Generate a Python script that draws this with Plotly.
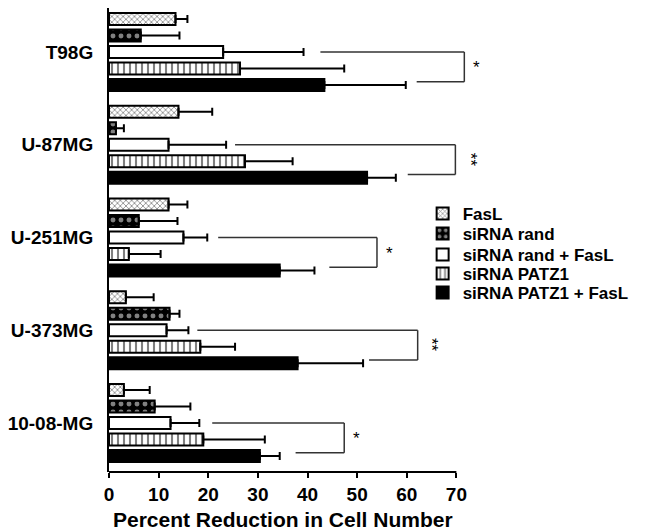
import plotly.graph_objects as go

cell_lines = ["T98G", "U-87MG", "U-251MG", "U-373MG", "10-08-MG"]
series_names = ["FasL", "siRNA rand", "siRNA rand + FasL", "siRNA PATZ1", "siRNA PATZ1 + FasL"]

fasl = [13.4, 14.0, 12.0, 3.4, 3.0]
fasl_hi = [15.8, 20.8, 15.8, 9.0, 8.2]
rand = [6.4, 1.4, 6.0, 12.2, 9.2]
rand_hi = [14.2, 3.0, 13.8, 14.2, 16.4]
rand_fasl = [23.0, 12.0, 15.0, 11.6, 12.4]
rand_fasl_hi = [39.2, 23.6, 19.8, 16.0, 18.2]
patz1 = [26.4, 27.4, 4.0, 18.4, 19.0]
patz1_hi = [47.4, 37.0, 10.4, 25.4, 31.4]
patz1_fasl = [43.4, 52.0, 34.4, 38.0, 30.4]
patz1_fasl_hi = [59.8, 57.8, 41.4, 51.2, 34.4]

x_ticks = [0, 10, 20, 30, 40, 50, 60, 70]

# significance brackets: (group, top-line start x, bracket x, bottom-line start x, label)
brackets = [
    (0, 42.6, 71.6, 62.0, "*"),
    (1, 25.4, 69.8, 60.2, "**"),
    (2, 22.0, 54.0, 44.4, "*"),
    (3, 17.8, 62.2, 52.4, "**"),
    (4, 20.8, 47.4, 37.6, "*"),
]

values = [fasl, rand, rand_fasl, patz1, patz1_fasl]
highs = [fasl_hi, rand_hi, rand_fasl_hi, patz1_hi, patz1_fasl_hi]

patterns = [
    dict(shape="x", fgcolor="black", bgcolor="white", size=4, solidity=0.35),
    dict(shape=".", fgcolor="white", bgcolor="black", size=8, solidity=0.3),
    dict(shape="", fgcolor="black", bgcolor="white"),
    dict(shape="|", fgcolor="black", bgcolor="white", size=6, solidity=0.35),
    dict(shape="", fgcolor="black", bgcolor="black"),
]
fills = ["white", "black", "white", "white", "black"]
legend_ids = ["legend", "legend2", "legend3", "legend4", "legend5"]
legend_y = [0.556, 0.513, 0.468, 0.427, 0.386]

FONT = "Arial, Liberation Sans, sans-serif"
fig = go.Figure()
for name, v, hi, pat, fc, lid in zip(series_names, values, highs, patterns, fills, legend_ids):
    fig.add_trace(go.Bar(
        name=name, y=cell_lines, x=v, orientation="h", legend=lid,
        marker=dict(color=fc, line=dict(color="black", width=2), pattern=pat),
        error_x=dict(type="data", symmetric=False,
                     array=[h - a for h, a in zip(hi, v)],
                     arrayminus=[0] * len(v), color="black", thickness=2, width=4),
    ))

bargap = 0.11
slot = (1 - bargap) / 5

shapes = []
annotations = []
for g, xs, xb, xe, lab in brackets:
    y_top = g
    y_bot = g + 2 * slot - 0.035
    line = dict(color="#333333", width=1.5)
    shapes.append(dict(type="line", xref="x", yref="y", x0=xs, x1=xb, y0=y_top, y1=y_top, line=line))
    shapes.append(dict(type="line", xref="x", yref="y", x0=xb, x1=xb, y0=y_top, y1=y_bot, line=line))
    shapes.append(dict(type="line", xref="x", yref="y", x0=xe, x1=xb, y0=y_bot, y1=y_bot, line=line))
    annotations.append(dict(
        x=xb, y=(y_top + y_bot) / 2, xref="x", yref="y", text=lab, showarrow=False,
        xanchor="left", xshift=7 if lab == "*" else 3, yshift=-1 if lab == "*" else 0,
        textangle=0 if lab == "*" else 90,
        font=dict(family=FONT, size=17, color="black")))

# x axis line only spanning the tick range
shapes.append(dict(type="line", xref="x", yref="paper", x0=x_ticks[0] - 0.4, x1=x_ticks[-1], y0=0, y1=0,
                   line=dict(color="black", width=2)))

annotations.append(dict(
    x=(x_ticks[0] + x_ticks[-1]) / 2, y=0, xref="x", yref="paper", yanchor="middle", yshift=-47,
    text="Percent Reduction in Cell Number", showarrow=False,
    font=dict(family=FONT, size=21, color="black", weight="bold")))

layout_legends = {}
for lid, ly in zip(legend_ids, legend_y):
    layout_legends[lid] = dict(
        x=0.79, y=ly, xanchor="left", yanchor="middle",
        font=dict(family=FONT, size=17, color="black", weight="bold"),
        bgcolor="rgba(0,0,0,0)", itemwidth=30)

fig.update_layout(
    width=642, height=523,
    margin=dict(l=98, r=144, t=0, b=59),
    paper_bgcolor="white", plot_bgcolor="white",
    barmode="group", bargap=bargap, bargroupgap=0.27,
    showlegend=True,
    xaxis=dict(range=[0, 80], tickvals=x_ticks,
               showgrid=False, zeroline=False, showline=False,
               ticks="outside", ticklen=5, tickwidth=2, tickcolor="black",
               tickfont=dict(family=FONT, size=19, color="black", weight="bold")),
    yaxis=dict(type="category", range=[4.528, -0.4744],
               showgrid=False, zeroline=False, showline=True, linecolor="black", linewidth=2,
               ticks="", ticklabelstandoff=10,
               tickfont=dict(family=FONT, size=19, color="black", weight="bold")),
    shapes=shapes, annotations=annotations,
    **layout_legends,
)

fig.write_html("out.html")
